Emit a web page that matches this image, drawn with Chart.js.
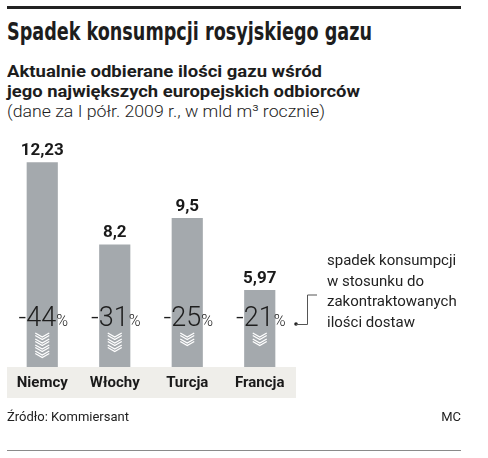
<!DOCTYPE html>
<html>
<head>
<meta charset="utf-8">
<script src="https://cdn.jsdelivr.net/npm/chart.js@4"></script>
<style>
  html, body { margin: 0; padding: 0; background: #fff; }
  body { width: 488px; height: 458px; position: relative; overflow: hidden; font-family: Roboto, "Liberation Sans", sans-serif; color: #1d1d1d; }
  .rule-top { position: absolute; left: 7px; top: 6px; width: 454px; height: 3px; background: #222; }
  .fit { position: absolute; left: 7px; white-space: nowrap; transform-origin: 0 0; }
  .title { top: 17px; font-family: "Liberation Sans Narrow", "DejaVu Sans Condensed", sans-serif; font-weight: bold; font-size: 25px; }
  .sub { font-family: Roboto, "Liberation Sans", sans-serif; font-size: 17px; font-weight: bold; }
  .line1 { top: 61px; }
  .line2 { top: 81px; }
  .line3 { top: 101px; font-weight: 300; }
  .chart-box { position: absolute; left: 0; top: 120px; width: 488px; height: 290px; }
  .note { position: absolute; left: 327px; top: 250px; font-size: 15px; line-height: 20.5px; color: #222; white-space: nowrap; }
  .source { position: absolute; left: 7px; top: 409px; font-size: 13px; color: #222; }
  .author { position: absolute; right: 27px; top: 409px; font-size: 13px; color: #222; }
  .rule-bottom { position: absolute; left: 7px; top: 450px; width: 454px; height: 1px; background: #8a8a8a; }
</style>
</head>
<body>
<div class="rule-top"></div>
<div class="fit title" data-w="365">Spadek konsumpcji rosyjskiego gazu</div>
<div class="fit sub line1" data-w="315">Aktualnie odbierane ilości gazu wśród</div>
<div class="fit sub line2" data-w="353">jego największych europejskich odbiorców</div>
<div class="fit sub line3" data-w="318">(dane za I półr. 2009 r., w mld m³ rocznie)</div>
<div class="chart-box"><canvas id="gasChart"></canvas></div>
<div class="note">spadek konsumpcji<br>w stosunku do<br>zakontraktowanych<br>ilości dostaw</div>
<div class="source">Źródło: Kommiersant</div>
<div class="author">MC</div>
<div class="rule-bottom"></div>

<script>
// Data
const countries = ['Niemcy', 'Włochy', 'Turcja', 'Francja'];
const volumes = [12.23, 8.2, 9.5, 5.97];          // mld m3 rocznie
const volumeLabels = ['12,23', '8,2', '9,5', '5,97'];
const drops = [-44, -31, -25, -21];               // % vs contracted
const chevrons = [4, 3, 2, 2];                    // arrows drawn under the %

const barColor = '#a4a9ad';
const bandColor = '#efeeea';

// squeeze/stretch header lines to the widths seen in the original
function fitHeader() {
    document.querySelectorAll('.fit').forEach(function(el) {
        el.style.transform = 'none';
        const w = el.getBoundingClientRect().width;
        const target = parseFloat(el.dataset.w);
        el.style.transform = 'scaleX(' + (target / w) + ')';
    });
}
fitHeader();
if (document.fonts) document.fonts.ready.then(fitHeader);

const decorations = {
    id: 'decorations',
    afterDatasetsDraw(chart) {
        const ctx = chart.ctx;
        const area = chart.chartArea;
        const meta = chart.getDatasetMeta(0);

        ctx.save();

        // category band under the bars
        ctx.fillStyle = bandColor;
        ctx.fillRect(area.left + 1, area.bottom, area.right - area.left - 1, 31);

        meta.data.forEach(function(bar, i) {
            const x = bar.x;

            // value above the bar
            ctx.fillStyle = '#1a1a1a';
            ctx.font = 'bold 17px Roboto, "Liberation Sans", sans-serif';
            ctx.textAlign = 'center';
            ctx.textBaseline = 'alphabetic';
            ctx.fillText(volumeLabels[i], x, bar.y - 7);

            // category name in the band
            ctx.font = 'bold 15px Roboto, "Liberation Sans", sans-serif';
            ctx.textBaseline = 'middle';
            ctx.fillText(countries[i], x, area.bottom + 16);

            // percentage drop
            const big = String(drops[i]);
            ctx.textBaseline = 'alphabetic';
            ctx.font = '300 27px Roboto, "Liberation Sans", sans-serif';
            const wBig = ctx.measureText(big).width;
            ctx.font = '300 16px Roboto, "Liberation Sans", sans-serif';
            const wPct = ctx.measureText('%').width;
            const start = x + 1 - (wBig + wPct) / 2;
            ctx.textAlign = 'left';
            ctx.fillStyle = '#1e1e1e';
            ctx.font = '300 27px Roboto, "Liberation Sans", sans-serif';
            ctx.fillText(big, start, area.bottom - 41);
            ctx.font = '300 16px Roboto, "Liberation Sans", sans-serif';
            ctx.fillText('%', start + wBig, area.bottom - 41);

            // chevrons
            ctx.strokeStyle = '#ffffff';
            ctx.lineWidth = 1.3;
            for (let k = 0; k < chevrons[i]; k++) {
                const top = area.bottom - 34 + k * 6;
                for (let d = 0; d < 2; d++) {
                    ctx.beginPath();
                    ctx.moveTo(x - 7, top + d * 2.5);
                    ctx.lineTo(x, top + 4 + d * 2.5);
                    ctx.lineTo(x + 7, top + d * 2.5);
                    ctx.stroke();
                }
            }
        });

        // bracket pointing to the note
        const dotY = area.bottom - 43;
        const dotX = area.right;
        ctx.fillStyle = '#222';
        ctx.beginPath();
        ctx.arc(dotX, dotY, 1.8, 0, Math.PI * 2);
        ctx.fill();
        ctx.strokeStyle = '#555';
        ctx.lineWidth = 1;
        ctx.beginPath();
        ctx.moveTo(dotX, dotY + 0.5);
        ctx.lineTo(dotX + 11.5, dotY + 0.5);
        ctx.lineTo(dotX + 11.5, dotY - 29);
        ctx.lineTo(dotX + 21, dotY - 29);
        ctx.stroke();

        ctx.restore();
    }
};

const ctx = document.getElementById('gasChart').getContext('2d');
new Chart(ctx, {
    type: 'bar',
    data: {
        labels: countries,
        datasets: [{
            data: volumes,
            backgroundColor: barColor,
            borderWidth: 0,
            barPercentage: 0.43,
            categoryPercentage: 1
        }]
    },
    options: {
        responsive: true,
        maintainAspectRatio: false,
        animation: false,
        layout: {
            padding: { left: 6, right: 192, top: 6, bottom: 43 }
        },
        plugins: {
            legend: { display: false },
            tooltip: { enabled: false }
        },
        scales: {
            x: {
                display: false,
                grid: { display: false }
            },
            y: {
                display: false,
                min: 2.2,
                max: 14,
                grid: { display: false }
            }
        }
    },
    plugins: [decorations]
});
</script>
</body>
</html>
